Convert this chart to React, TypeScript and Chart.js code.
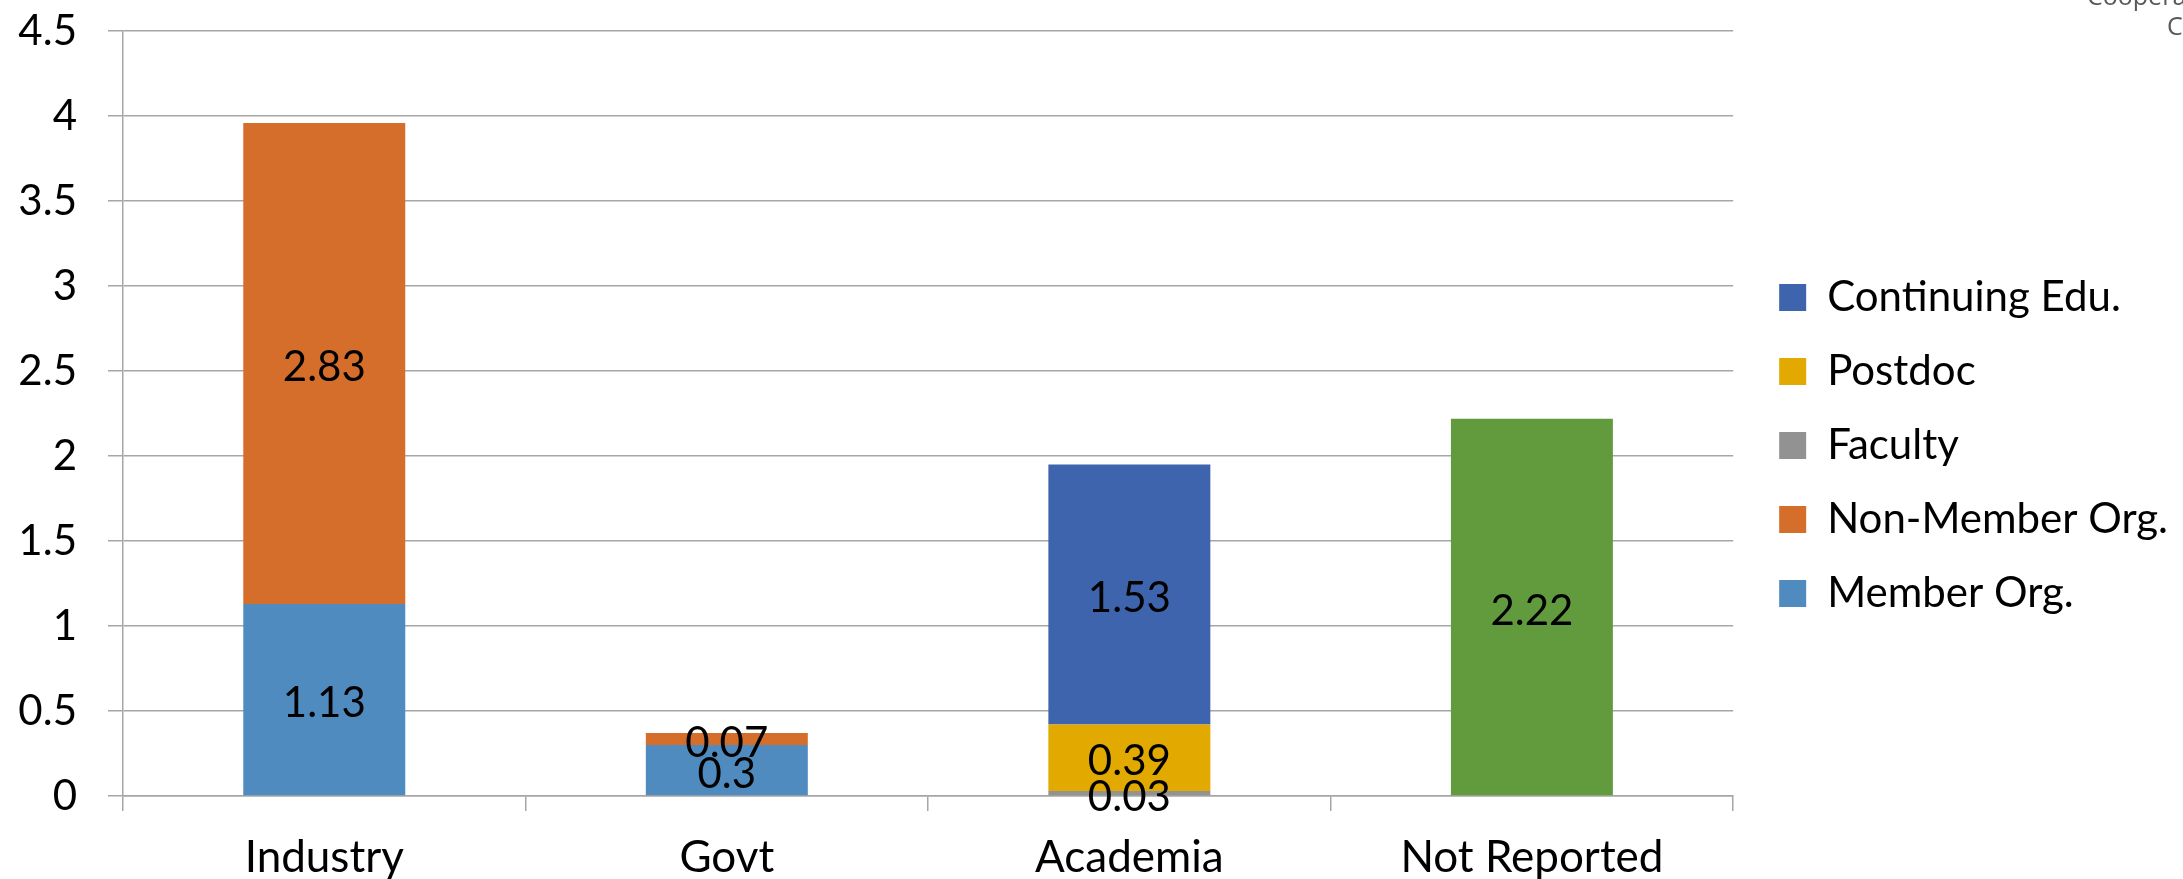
import React, { useEffect, useRef } from "react";
import { Chart, registerables } from "chart.js";

Chart.register(...registerables);

const categories = ["Industry", "Govt", "Academia", "Not Reported"];
const memberOrg = [1.13, 0.3, null, null];
const nonMemberOrg = [2.83, 0.07, null, null];
const faculty = [null, null, 0.03, null];
const postdoc = [null, null, 0.39, null];
const continuingEdu = [null, null, 1.53, null];
const notReported = [null, null, null, 2.22];
const yTicks = { min: 0, max: 4.5, step: 0.5 };
const cornerText = ["Cooperative", "Co"];

const GRID = "#A6A6A6";

const valueLabels = {
  id: "valueLabels",
  afterDatasetsDraw(chart: any) {
    const ctx = chart.ctx;
    ctx.save();
    ctx.font = "42px Lato";
    ctx.fillStyle = "#000";
    ctx.textAlign = "center";
    ctx.textBaseline = "middle";
    chart.data.datasets.forEach((ds: any, i: number) => {
      const meta = chart.getDatasetMeta(i);
      meta.data.forEach((bar: any, j: number) => {
        const v = ds.data[j];
        if (v == null || v === 0) return;
        const p = bar.getProps(["x", "y", "base"], true);
        ctx.fillText(String(v), p.x, (p.y + p.base) / 2 + 4);
      });
    });
    ctx.restore();
  },
};

const corner = {
  id: "corner",
  afterDraw(chart: any) {
    const ctx = chart.ctx;
    ctx.save();
    ctx.font = "25px 'Open Sans'";
    ctx.fillStyle = "#595959";
    ctx.textAlign = "left";
    ctx.textBaseline = "alphabetic";
    ctx.fillText(cornerText[0], 2087, 5);
    ctx.fillText(cornerText[1], 2167, 35);
    ctx.restore();
  },
};

export default function App() {
  const ref = useRef<HTMLCanvasElement | null>(null);
  useEffect(() => {
    document.body.style.margin = "0";
    if (!ref.current) return;
    const chart = new Chart(ref.current, {
      type: "bar",
      data: {
        labels: categories,
        datasets: [
          { label: "Member Org.", data: memberOrg, backgroundColor: "#4F8BBE" },
          { label: "Non-Member Org.", data: nonMemberOrg, backgroundColor: "#D46E2A" },
          { label: "Faculty", data: faculty, backgroundColor: "#929292" },
          { label: "Postdoc", data: postdoc, backgroundColor: "#E2AA00" },
          { label: "Continuing Edu.", data: continuingEdu, backgroundColor: "#3D64AC" },
          { label: "Not Reported", data: notReported, backgroundColor: "#629B3E" },
        ] as any,
      },
      options: {
        animation: false,
        responsive: false,
        maintainAspectRatio: false,
        layout: { padding: { top: 12, left: 0, right: 5, bottom: 0 } },
        datasets: {
          bar: { categoryPercentage: 0.8, barPercentage: 0.503 },
        } as any,
        plugins: {
          tooltip: { enabled: false },
          title: { display: false },
          legend: {
            position: "right",
            reverse: true,
            maxWidth: 435,
            labels: {
              filter: (item: any) => item.text !== "Not Reported",
              boxWidth: 27,
              boxHeight: 27,
              padding: 32,
              color: "#000",
              font: { family: "Lato", size: 42 },
            },
          } as any,
        },
        scales: {
          x: {
            stacked: true,
            grid: {
              drawOnChartArea: false,
              drawTicks: true,
              tickLength: 15,
              color: GRID,
              lineWidth: 1.5,
            },
            border: { color: GRID, width: 1.5 },
            ticks: {
              color: "#000",
              padding: 20,
              font: { family: "Lato", size: 44 },
              maxRotation: 0,
            },
            afterFit: (s: any) => {
              s.height = 83;
            },
          },
          y: {
            stacked: true,
            min: yTicks.min,
            max: yTicks.max,
            grid: { color: GRID, lineWidth: 1.5, tickLength: 15 },
            border: { color: GRID, width: 1.5 },
            ticks: {
              stepSize: yTicks.step,
              color: "#000",
              padding: 31,
              font: { family: "Lato", size: 42, lineHeight: 0.01 },
              callback: (v: any) => String(v),
            },
            afterFit: (s: any) => {
              s.width = 123;
            },
          },
          y2: {
            type: "linear",
            position: "right",
            display: true,
            grid: { display: false, drawTicks: false },
            border: { display: false },
            ticks: { display: false },
            afterFit: (s: any) => {
              s.width = 14;
            },
          },
        } as any,
      },
      plugins: [valueLabels, corner],
    });
    return () => chart.destroy();
  }, []);
  return (
    <div style={{ position: "relative", width: 2183, height: 879 }}>
      <canvas ref={ref} width={2183} height={879} style={{ display: "block" }} />
    </div>
  );
}
